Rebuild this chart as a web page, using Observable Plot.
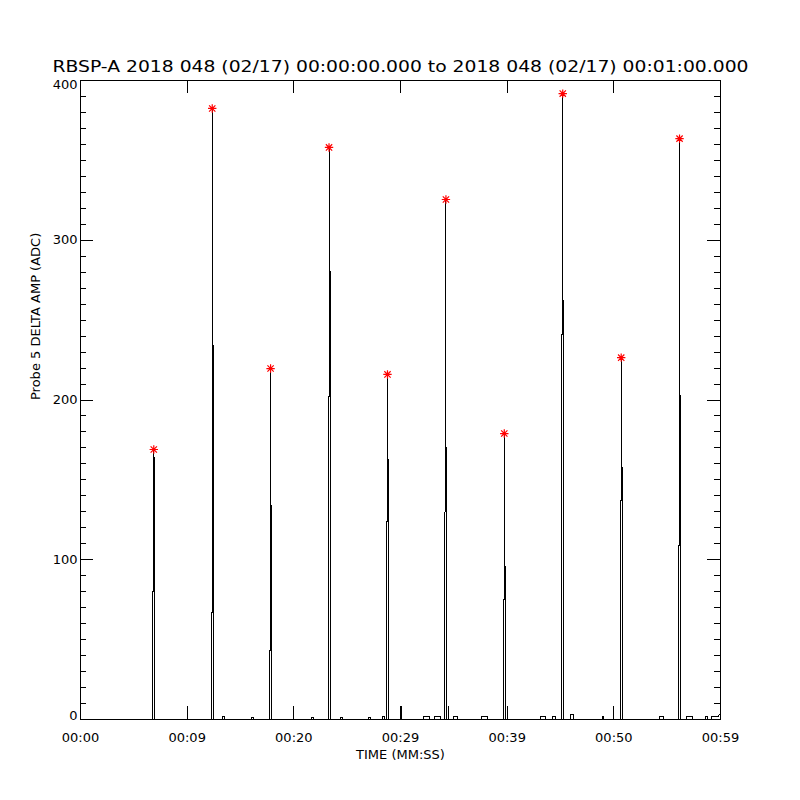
<!DOCTYPE html>
<html><head><meta charset="utf-8">
<script src="https://cdn.jsdelivr.net/npm/d3@7"></script>
<script src="https://cdn.jsdelivr.net/npm/@observablehq/plot@0.6"></script>
<style>html,body{margin:0;padding:0;background:#fff;} svg{display:block}</style>
</head><body><div id="chart"></div>
<script>
const titleText = "RBSP-A 2018 048 (02/17) 00:00:00.000 to 2018 048 (02/17) 00:01:00.000";
const xLabel = "TIME (MM:SS)";
const yLabel = "Probe 5 DELTA AMP (ADC)";
const xTickValues = [0, 10, 20, 30, 40, 50, 60];
const xTickLabels = ["00:00", "00:09", "00:20", "00:29", "00:39", "00:50", "00:59"];
const yTickValues = [0, 100, 200, 300, 400];
const yMinorTicks = [10,20,30,40,50,60,70,80,90,110,120,130,140,150,160,170,180,190,
  210,220,230,240,250,260,270,280,290,310,320,330,340,350,360,370,380,390];

// large pulses (seconds, ADC)
const spikeTimes = [6.87, 12.35, 17.82, 23.30, 28.78, 34.26, 39.73, 45.21, 50.69, 56.16];
const spikePeaks = [169, 382.5, 219.7, 358.1, 216, 325.5, 179, 391.8, 226.5, 363.6];
const spikeLow   = [80, 67, 43, 202, 124, 130, 75, 241, 137, 109];
const spikeHigh  = [164, 234, 134, 281, 163, 170, 96, 262, 158, 203];

// small spikes
const smallSpikeTimes  = [10.06, 20.00, 30.09, 34.48, 40.06, 49.98];
const smallSpikeValues = [8, 8, 8, 8, 8, 8];

// tiny bumps along baseline
const bumpTimes  = [13.31, 16.03, 21.66, 24.37, 27.00, 28.31, 32.16, 33.19, 34.97, 37.59, 43.12, 44.25, 45.94, 48.94, 54.28, 56.81, 58.59];
const bumpWidths = [0.15, 0.19, 0.19, 0.19, 0.19, 0.19, 0.56, 0.56, 0.37, 0.56, 0.47, 0.28, 0.28, 0.10, 0.37, 0.56, 0.19];
const bumpValues = [2, 1, 1, 1, 1, 2, 2, 2, 2, 2, 2, 2, 3, 2, 2, 2, 2];

const W = 640, H = 639;
const step = 0.094; // one sample step in seconds

// build the line vertices from the read values
const events = [];
spikeTimes.forEach((t, i) => events.push({t, pts: [
  [t - step, 0], [t - step, spikeLow[i]], [t, spikeLow[i]], [t, spikePeaks[i]], [t, spikeHigh[i]],
  [t + step, spikeHigh[i]], [t + step, 0]
]}));
smallSpikeTimes.forEach((t, i) => events.push({t, pts: [[t, 0], [t, smallSpikeValues[i]], [t, 0]]}));
bumpTimes.forEach((t, i) => events.push({t, pts: [[t, 0], [t, bumpValues[i]], [t + bumpWidths[i], bumpValues[i]], [t + bumpWidths[i], 0]]}));
events.sort((a, b) => a.t - b.t);
const vertices = [[0, 0]];
events.forEach(e => e.pts.forEach(p => vertices.push(p)));
vertices.push([59.1, 0], [59.2, 2], [59.8, 2], [60, 4]);

const idlStar = {
  draw(ctx, size) {
    const r = Math.sqrt(size / Math.PI), d = r * 0.75;
    ctx.moveTo(-r, 0); ctx.lineTo(r, 0);
    ctx.moveTo(0, -r); ctx.lineTo(0, r);
    ctx.moveTo(-d, -d); ctx.lineTo(d, d);
    ctx.moveTo(-d, d); ctx.lineTo(d, -d);
  }
};

const peaks = spikeTimes.map((t, i) => ({t, v: spikePeaks[i]}));
const crisp = {stroke: "black", shapeRendering: "crispEdges"};

const svg = Plot.plot({
  width: 800, height: 800,
  marginLeft: 80, marginRight: 80, marginTop: 80, marginBottom: 81,
  style: {fontFamily: "DejaVu Sans", fontSize: "13px", background: "white", color: "black"},
  x: {domain: [0, 60]},
  y: {domain: [0, 400]},
  marks: [
    Plot.line(vertices, {x: d => d[0], y: d => d[1], strokeWidth: 1, ...crisp}),
    Plot.frame({strokeWidth: 1, ...crisp}),
    Plot.ruleX(xTickValues, {x: d => d, insetTop: H - 13, ...crisp}),
    Plot.ruleX(xTickValues, {x: d => d, insetBottom: H - 13, ...crisp}),
    Plot.ruleY(yTickValues, {y: d => d, insetRight: W - 13, ...crisp}),
    Plot.ruleY(yTickValues, {y: d => d, insetLeft: W - 13, ...crisp}),
    Plot.ruleY(yMinorTicks, {y: d => d, insetRight: W - 6, ...crisp}),
    Plot.ruleY(yMinorTicks, {y: d => d, insetLeft: W - 6, ...crisp}),
    Plot.axisX({ticks: xTickValues, tickFormat: d => xTickLabels[xTickValues.indexOf(d)], tickSize: 0, tickPadding: 13, label: null, fontSize: 13}),
    Plot.axisY({ticks: yTickValues.slice(1, 4), tickFormat: d => String(d), tickSize: 0, tickPadding: 3, label: null, fontSize: 13}),
    Plot.axisY({ticks: [yTickValues[4]], tickFormat: d => String(d), tickSize: 0, tickPadding: 3, label: null, fontSize: 13, dy: 4}),
    Plot.axisY({ticks: [yTickValues[0]], tickFormat: d => String(d), tickSize: 0, tickPadding: 3, label: null, fontSize: 13, dy: -4}),
    Plot.dot(peaks, {x: "t", y: "v", symbol: idlStar, r: 4.2, stroke: "#ff0000", strokeWidth: 1.2, fill: "none"}),
    Plot.text([titleText], {text: d => d, frameAnchor: "top", dy: -19, fontSize: 15, fill: "black"}),
    Plot.text([xLabel], {text: d => d, frameAnchor: "bottom", dy: 39, fontSize: 13, fill: "black"}),
    Plot.text([yLabel], {text: d => d, frameAnchor: "left", dx: -45, rotate: -90, fontSize: 13, fill: "black"})
  ]
});
document.getElementById("chart").appendChild(svg);
d3.select(svg).selectAll("text").filter(function() { return this.textContent.startsWith("RBSP"); })
  .attr("textLength", 696).attr("lengthAdjust", "spacingAndGlyphs");
</script>
</body></html>
